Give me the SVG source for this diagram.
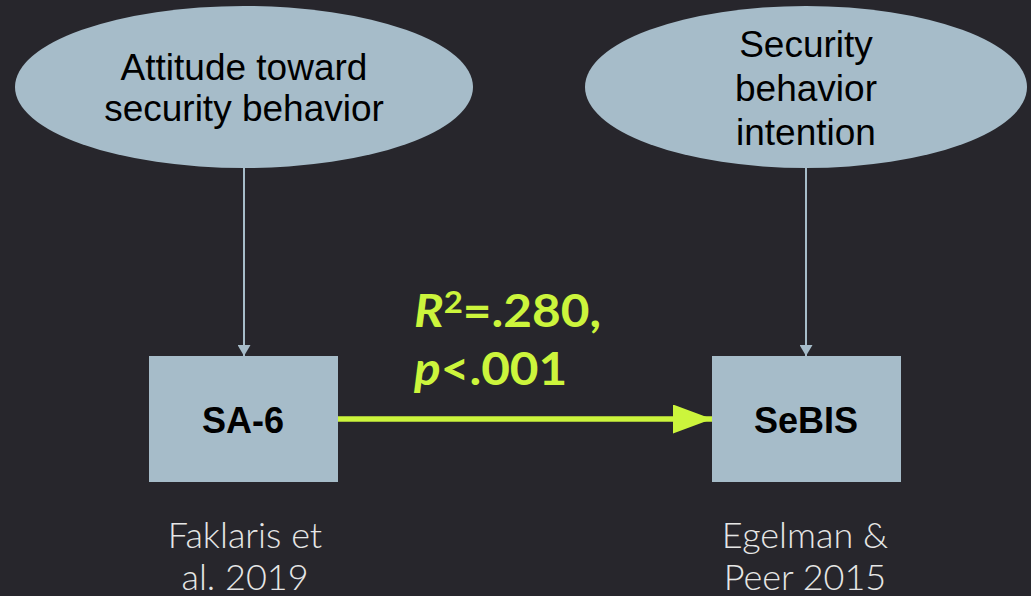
<svg xmlns="http://www.w3.org/2000/svg" width="1031" height="596" viewBox="0 0 1031 596">
<defs>
<style>
.node{fill:#a6bcc9;}
.lbl{font-family:"Liberation Sans",Arial,sans-serif;font-size:37px;fill:#000;text-anchor:middle;}
.box{font-family:"Liberation Sans",Arial,sans-serif;font-size:36px;font-weight:bold;fill:#000;text-anchor:middle;}
.cite{font-family:Lato,"Open Sans",sans-serif;font-weight:300;font-size:36px;fill:#e6e6e6;text-anchor:middle;}
.stat{font-family:Lato,"Open Sans",sans-serif;font-weight:bold;font-size:45px;fill:#ccf53c;}
.thin{stroke:#a6bcc9;stroke-width:2;fill:none;}
.thick{stroke:#ccf53c;stroke-width:5.5;fill:none;}
</style>
<marker id="ah" viewBox="0 0 11 13" refX="11" refY="6.5" markerWidth="11" markerHeight="13" markerUnits="userSpaceOnUse" orient="auto"><path d="M0,0 L11,6.5 L0,13 Z" fill="#a6bcc9"/></marker>
<marker id="ahg" viewBox="0 0 39 29" refX="39" refY="14.5" markerWidth="39" markerHeight="29" markerUnits="userSpaceOnUse" orient="auto"><path d="M0,0 L39,14.5 L0,29 Z" fill="#ccf53c"/></marker>
</defs>
<rect width="1031" height="596" fill="#27262c"/>
<g id="connectors">
<line class="thin" x1="244" y1="168" x2="244" y2="356" marker-end="url(#ah)"/>
<line class="thin" x1="806" y1="168" x2="806" y2="356" marker-end="url(#ah)"/>
<line class="thick" x1="338" y1="419" x2="712" y2="419" marker-end="url(#ahg)"/>
</g>
<g id="attitude">
<ellipse class="node" cx="244" cy="87" rx="229" ry="81"/>
<text class="lbl" x="244" y="80">Attitude toward</text>
<text class="lbl" x="244" y="121">security behavior</text>
</g>
<g id="intention">
<ellipse class="node" cx="806" cy="87" rx="221" ry="81"/>
<text class="lbl" x="806" y="57">Security</text>
<text class="lbl" x="806" y="101">behavior</text>
<text class="lbl" x="806" y="145">intention</text>
</g>
<g id="sa6">
<rect class="node" x="149" y="356" width="189" height="126"/>
<text class="box" x="243" y="433">SA-6</text>
</g>
<g id="sebis">
<rect class="node" x="712" y="356" width="189" height="126"/>
<text class="box" x="806" y="433">SeBIS</text>
</g>
<g id="stat" transform="translate(414,0) scale(1.1,1)">
<text class="stat" x="0" y="327"><tspan font-style="italic">R</tspan><tspan font-size="30" dy="-14">2</tspan><tspan dy="14">=.280,</tspan></text>
<text class="stat" x="0" y="385"><tspan font-style="italic">p</tspan>&lt;.001</text>
</g>
<g id="citations">
<text class="cite" x="245" y="548">Faklaris et</text>
<text class="cite" x="245" y="590">al. 2019</text>
<text class="cite" x="805" y="548">Egelman &amp;</text>
<text class="cite" x="805" y="590">Peer 2015</text>
</g>
</svg>
